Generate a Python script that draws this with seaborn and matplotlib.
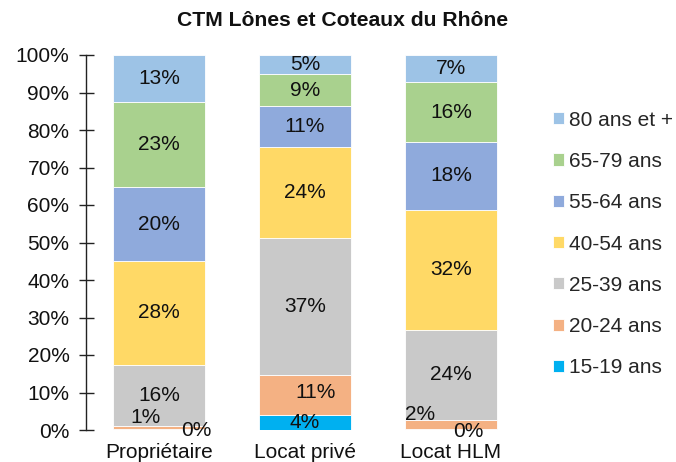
import numpy as np
import pandas as pd
import matplotlib
matplotlib.use("Agg")
import matplotlib.pyplot as plt
import seaborn as sns

categories = ["Propriétaire", "Locat privé", "Locat HLM"]
age_groups = ["15-19 ans", "20-24 ans", "25-39 ans", "40-54 ans",
              "55-64 ans", "65-79 ans", "80 ans et +"]
colors = ["#00B0F0", "#F4B183", "#C9C9C9", "#FFD966",
          "#8FAADC", "#A9D18E", "#9DC3E6"]

v_15_19 = [0.3, 4.0, 0.3]
v_20_24 = [0.7, 10.6, 2.4]
v_25_39 = [16.3, 36.6, 24.1]
v_40_54 = [27.8, 24.3, 32.0]
v_55_64 = [19.6, 10.8, 17.9]
v_65_79 = [22.8, 8.6, 16.0]
v_80p = [12.6, 5.1, 7.3]

series = [v_15_19, v_20_24, v_25_39, v_40_54, v_55_64, v_65_79, v_80p]

rows = []
for g, vals in zip(age_groups, series):
    for c, v in zip(categories, vals):
        rows.append({"cat": c, "age": g, "val": v})
df = pd.DataFrame(rows)

sns.set_theme(style="white")
plt.rcParams["font.family"] = ["Liberation Sans", "DejaVu Sans"]

FS = 15

fig = plt.figure(figsize=(6.76, 4.62), dpi=100)
ax = fig.add_axes([86/676, 1-430/462, (524-86)/676, (430-55)/462])

cum = np.zeros(len(categories))
for g, col in zip(age_groups, colors):
    sub = df[df["age"] == g].set_index("cat").loc[categories].reset_index()
    sns.barplot(data=sub, x="cat", y="val", order=categories, bottom=cum,
                color=col, saturation=1, width=0.63, edgecolor="white",
                linewidth=0.6, ax=ax, label=g)
    cum = cum + sub["val"].to_numpy()

# data labels
special = {
    (0, "20-24 ans"): (-13, 10),
    (0, "15-19 ans"): (37, -1),
    (2, "20-24 ans"): (-31, 10),
    (2, "15-19 ans"): (17, -2),
    (1, "20-24 ans"): (11, 3),
}
cum = np.zeros(len(categories))
for g, vals in zip(age_groups, series):
    for i, v in enumerate(vals):
        yc = cum[i] + v / 2
        dx, dy = special.get((i, g), (0, 0))
        ax.annotate(f"{v:.0f}%", (i, yc), xytext=(dx * 0.72, dy * 0.72),
                    textcoords="offset points", ha="center", va="center",
                    fontsize=FS, color="#111111")
    cum = cum + np.array(vals)

ax.set_xlim(-0.5, 2.5)
ax.set_ylim(0, 100)
ax.set_yticks(np.arange(0, 101, 10))
ax.set_yticklabels([f"{t}%" for t in range(0, 101, 10)])
ax.set_xlabel("")
ax.set_ylabel("")
for s in ["top", "right", "bottom"]:
    ax.spines[s].set_visible(False)
ax.spines["left"].set_color("#222222")
ax.spines["left"].set_linewidth(1.0)
ax.tick_params(axis="y", direction="inout", length=10.8, width=1.0,
               color="#222222", pad=6.5, labelsize=FS, labelcolor="#111111", left=True)
ax.tick_params(axis="x", length=0, pad=9, labelsize=FS, labelcolor="#111111")
ax.grid(False)

h, l = ax.get_legend_handles_labels()
ax.legend(h[::-1], l[::-1], loc="center left", bbox_to_anchor=(553/676, 1-244/462),
          bbox_transform=fig.transFigure, frameon=False, fontsize=FS,
          handlelength=0.52, handleheight=0.52, handletextpad=0.25,
          labelspacing=1.07, borderpad=0, borderaxespad=0)

fig.text(343/676, 1-20/462, "CTM Lônes et Coteaux du Rhône", ha="center",
         va="center", fontsize=15.2, fontweight="bold", color="#111111")

fig.savefig("out.png", dpi=100)
